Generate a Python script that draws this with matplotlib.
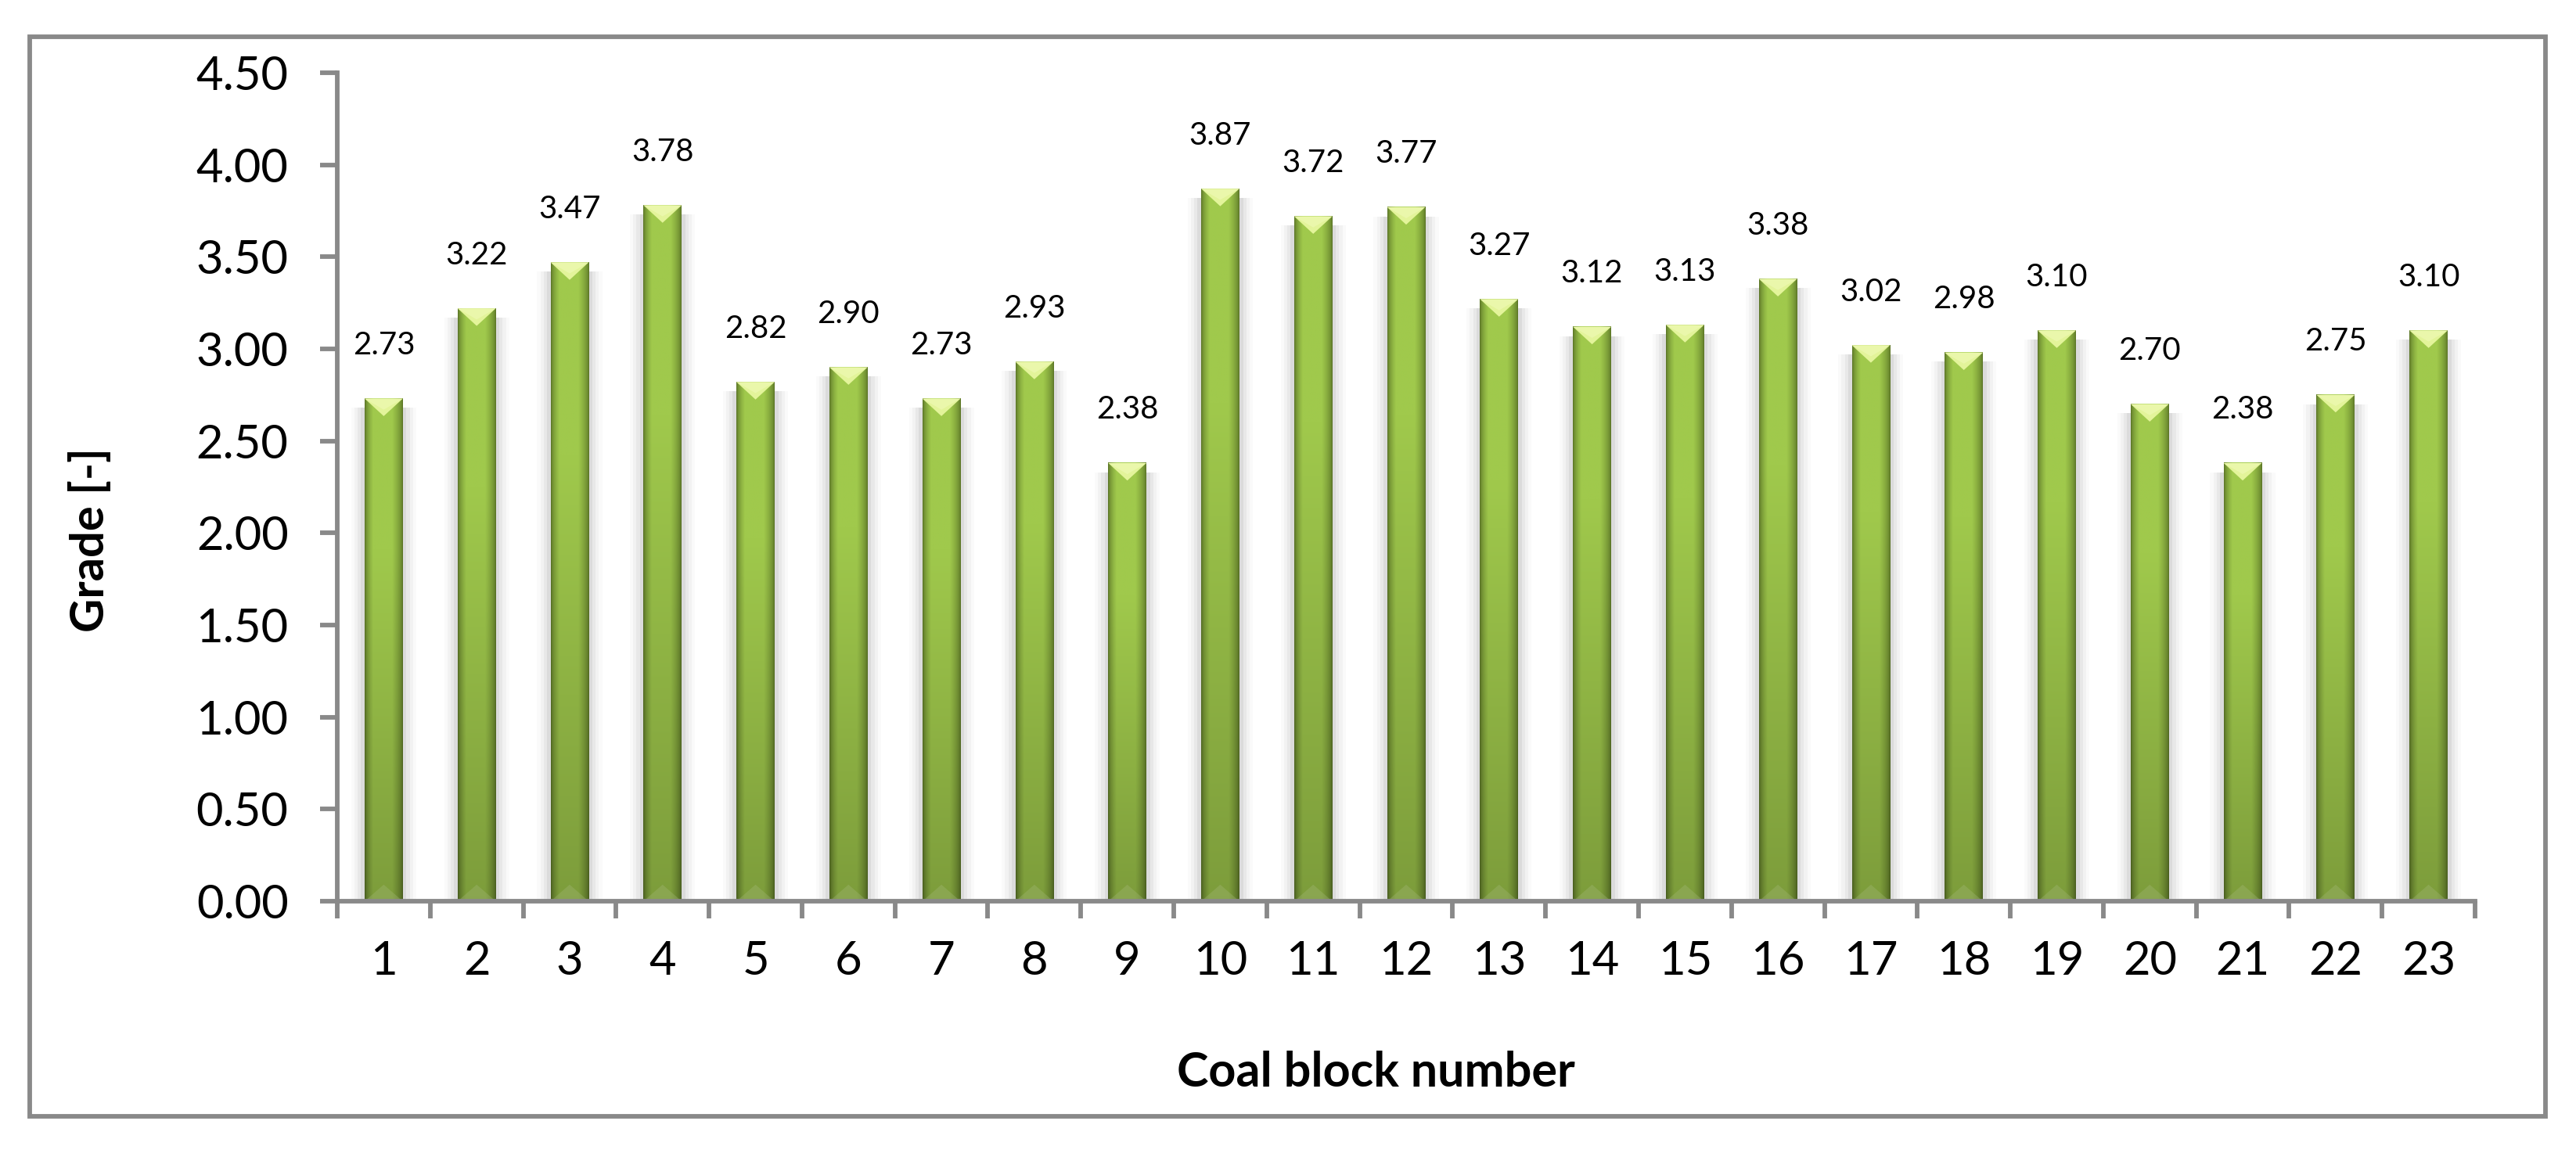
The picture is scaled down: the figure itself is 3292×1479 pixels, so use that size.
import numpy as np
import matplotlib
matplotlib.use("Agg")
from matplotlib import pyplot as plt
from matplotlib.patches import Rectangle, Polygon

plt.rcParams['font.family'] = ['Lato', 'DejaVu Sans']

# datos
bloques = [str(i) for i in range(1, 24)]
grados = [2.73, 3.22, 3.47, 3.78, 2.82, 2.90, 2.73, 2.93, 2.38, 3.87, 3.72, 3.77,
          3.27, 3.12, 3.13, 3.38, 3.02, 2.98, 3.10, 2.70, 2.38, 2.75, 3.10]
yticks = [0.0, 0.5, 1.0, 1.5, 2.0, 2.5, 3.0, 3.5, 4.0, 4.5]

gris = '#898989'
W, H = 3292, 1479
fig = plt.figure(figsize=(W / 100, H / 100), dpi=100)
ax = fig.add_axes([431 / W, 1 - 1152 / H, (3163 - 431) / W, (1152 - 93) / H])

# marco exterior
fig.patches.append(Rectangle((38 / W, 1 - 1427 / H), (3253 - 38) / W, (1427 - 47) / H,
                             transform=fig.transFigure, fill=False, edgecolor=gris,
                             linewidth=4.2, zorder=0))

# gradiente de la barra (horizontal x vertical)
nx, ny = 64, 128
u = np.linspace(0, 1, nx)
oscuro = np.array([0x5a, 0x74, 0x26]) / 255
claro = np.array([0xa0, 0xc9, 0x4c]) / 255
perfil = np.clip(np.minimum(u / 0.22, (1 - u) / 0.28), 0, 1) ** 0.6
v = np.linspace(0, 1, ny)[:, None]
luz = 0.78 + 0.22 * np.clip(v / 0.7, 0, 1)
img = oscuro[None, None, :] + (claro - oscuro)[None, None, :] * perfil[None, :, None]
img = img * luz[:, :, None]
img = np.clip(img, 0, 1)

ancho = 0.41
x = np.arange(len(grados))
for xi, g in zip(x, grados):
    # sombra suave a los lados
    for k, a in enumerate([0.05, 0.04, 0.03, 0.02]):
        d = 0.04 + 0.035 * k
        ax.add_patch(Rectangle((xi - ancho / 2 - d, 0), ancho + 2 * d, g - 0.05,
                               facecolor='#000000', alpha=a, edgecolor='none', zorder=1))
    ax.imshow(img, extent=(xi - ancho / 2, xi + ancho / 2, 0, g), origin='lower',
              aspect='auto', interpolation='bilinear', zorder=2)
    # punta clara arriba
    ax.add_patch(Polygon([(xi - ancho / 2, g), (xi + ancho / 2, g), (xi, g - 0.095)],
                         closed=True, facecolor='#e3f49a', edgecolor='none', zorder=3))
    ax.add_patch(Polygon([(xi - ancho / 2, g), (xi + ancho / 2, g), (xi, g - 0.06)],
                         closed=True, facecolor='#f0fab8', edgecolor='none', zorder=3, alpha=0.6))
    # reflejo abajo
    ax.add_patch(Polygon([(xi - ancho / 2, 0), (xi + ancho / 2, 0), (xi, 0.09)],
                         closed=True, facecolor='#a4b878', edgecolor='none', zorder=3, alpha=0.35))
    ax.annotate(f"{g:.2f}", (xi, g), xytext=(0, 49), textcoords='offset points',
                ha='center', va='center', fontsize=29, color='black')

ax.set_xlim(-0.5, len(grados) - 0.5)
ax.set_ylim(0, 4.5)
ax.set_yticks(yticks)
ax.set_yticklabels([f"{t:.2f}" for t in yticks])

ax.set_xticks(np.arange(len(grados) + 1) - 0.5)
ax.set_xticklabels([])
ax.set_xticks(x, minor=True)
ax.set_xticklabels(bloques, minor=True)

ax.tick_params(axis='x', which='major', length=16, width=4.2, color=gris, direction='out')
ax.tick_params(axis='x', which='minor', length=0, pad=36, labelsize=43)
ax.tick_params(axis='y', length=16, width=4.2, color=gris, direction='out', pad=29, labelsize=43)

for lado in ['top', 'right']:
    ax.spines[lado].set_visible(False)
for lado in ['left', 'bottom']:
    ax.spines[lado].set_color(gris)
    ax.spines[lado].set_linewidth(4.2)
    ax.spines[lado].set_zorder(5)

fig.text(1758 / W, 1 - 1371 / H, 'Coal block number', ha='center', va='center',
         fontsize=44, fontweight='bold')
fig.text(115 / W, 1 - 690 / H, 'Grade [-]', ha='center', va='center', rotation=90,
         fontsize=43, fontweight='bold')

fig.savefig('out.png', dpi=100)
